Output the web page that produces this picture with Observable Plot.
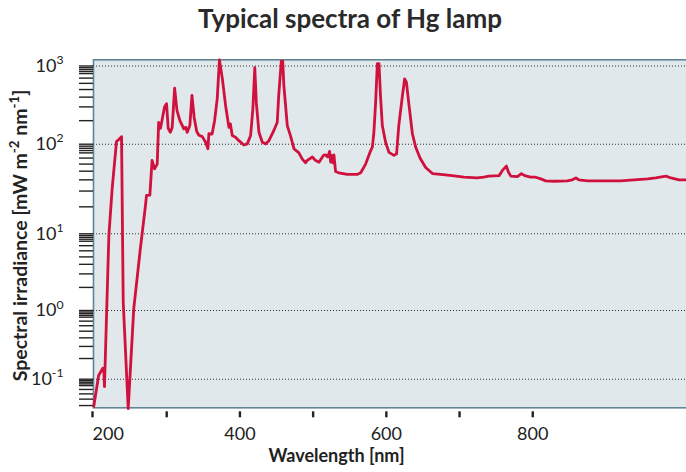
<!DOCTYPE html>
<html>
<head>
<meta charset="utf-8">
<script src="https://cdn.jsdelivr.net/npm/d3@7"></script>
<script src="https://cdn.jsdelivr.net/npm/@observablehq/plot@0.6"></script>
<style>
  body { margin: 0; background: #fff; }
  #wrap { width: 686px; height: 472px; position: relative; overflow: hidden; }
  #title { height: 42px; box-sizing: border-box; padding-left: 14px; padding-top: 4px;
           text-align: center; font: 700 26px Lato, "Open Sans", sans-serif; color: #2a2a2a; line-height: 28px; }
  svg text { font-family: Lato, "Open Sans", sans-serif; }
</style>
</head>
<body>
<div id="wrap">
  <div id="title">Typical spectra of Hg lamp</div>
  <div id="chart"></div>
</div>
<script>
// ---- data (wavelength in nm, irradiance in mW m^-2 nm^-1)
const wavelength = [
  200.4, 207, 212.7, 214, 215, 221, 225.5, 231.4, 234.6, 238.3,
  240.6, 247.4, 255, 264, 271, 272.4, 277, 280, 283.4, 287,
  289, 291.5, 293.5, 297, 299.8, 302, 305, 307.5, 310.8, 314,
  318, 321, 323.4, 326, 328, 331.6, 334.5, 337.5, 341, 344,
  348.6, 353, 356.3, 357.6, 362, 365.4, 369, 372, 376, 380.4,
  385, 387, 389.5, 394, 398.6, 405.4, 410, 414.6, 417.7, 420.3,
  422.5, 426, 430.6, 435, 439.6, 446.4, 451, 453, 456.5, 458.5,
  460, 464.7, 469, 473.8, 480.6, 485, 489.7, 492, 499, 503,
  508, 514, 517, 520, 522.5, 524, 525, 527, 528.4, 530.7,
  535, 546.7, 560, 565, 571.7, 577.6, 580.9, 583, 585.4, 587.7,
  590, 592, 594.5, 599, 603.6, 610.4, 614, 617, 622, 625,
  627.4, 631, 635.6, 640, 646, 653.7, 663, 674, 690, 706,
  724, 733, 740, 754, 758.6, 764, 766.7, 770, 779, 784.5,
  789, 797, 804, 811, 817.7, 829, 847, 854, 859, 863,
  875, 920, 957, 968, 982, 988.6, 1000, 1010
];
const irradiance = [
  0.039, 0.113, 0.145, 0.14, 0.077, 9.5, 32, 108, 115, 125,
  1.28, 0.036, 1.06, 6.4, 20.7, 26.8, 27, 66, 53, 60,
  190, 160, 200, 300, 330, 160, 142, 164, 520, 270,
  200, 175, 157, 165, 142, 173, 420, 220, 145, 130,
  125, 107, 89, 136, 135, 200, 380, 1200, 690, 313,
  164, 182, 129, 123, 111, 98, 101, 129, 283, 950,
  330, 142, 106, 101, 111, 150, 191, 420, 1150, 1150,
  564, 173, 129, 89, 80, 68.7, 62, 66, 72, 66,
  63, 75, 76, 72, 83, 63, 75, 62, 76, 49.5,
  48, 46, 46, 48, 60, 81, 93, 142, 345, 1070,
  1070, 420, 173, 106, 81, 75, 78, 173, 420, 686,
  620, 313, 136, 93, 70, 55, 47, 46, 44.6, 42.8,
  42, 43, 44, 44.6, 51, 57, 49, 44, 43.5, 47,
  44.6, 42.8, 42.8, 41, 39, 38.6, 39, 40, 42, 40,
  39, 39, 41, 42, 44, 42, 40, 40
];
const xTicksMajor = [400, 600, 800];
const xTicksMinor = [300, 500, 700];
const xTickFirst = [200];
const yDecades = [0.1, 1, 10, 100, 1000];
const yExponents = ["-1", "0", "1", "2", "3"];
const yMinorMantissa = [2, 3, 4, 5, 6, 7, 8, 8.5, 9, 9.5];
const xLabel = "Wavelength [nm]";
const yLabelParts = [["Spectral irradiance [mW m", false], ["-2", true], [" nm", false], ["-1", true], ["]", false]];

const data = wavelength.map((w, i) => ({w, v: irradiance[i]}));

const yMin = 0.037, yMax = 1200;
const yMinor = [];
for (const d of [0.01, 0.1, 1, 10, 100, 1000]) {
  for (const m of yMinorMantissa) { const t = m * d; if (t >= yMin && t <= yMax) yMinor.push(t); }
}

const TOP = 42; // height of the HTML title block
const ink = "#222";
const red = "#d0103d";

const chart = Plot.plot({
  width: 686,
  height: 430,
  marginLeft: 93,
  marginRight: 0,
  marginTop: 59.3 - TOP,
  marginBottom: 430 - (407.3 - TOP),
  x: {domain: [200, 1010]},
  y: {
    type: "log",
    // the reference's decades are not evenly spaced: calibrate piecewise
    domain: [yMin, 0.1, 1, 10, 100, 1000, yMax],
    range: [407.3, 378.7, 310, 233.3, 143.7, 65.5, 59.3].map(p => p - TOP)
  },
  style: {fontSize: "18px", color: ink, background: "transparent"},
  marks: [
    Plot.frame({fill: "#e1e8eb", stroke: "#5f8597", strokeWidth: 1.6, insetRight: -3}),
    Plot.ruleY(yDecades, {stroke: "#333", strokeWidth: 1.1, strokeDasharray: "1,2"}),
    Plot.axisY({ticks: yMinor, tickSize: 14, tickFormat: () => "", stroke: ink, strokeWidth: 1.4, label: null}),
    Plot.axisY({ticks: yDecades, tickSize: 14, tickPadding: 16, stroke: ink, strokeWidth: 1.4,
                tickFormat: (d, i) => "10^" + yExponents[yDecades.indexOf(d)], label: null, fontSize: 18}),
    Plot.axisX({ticks: xTicksMinor.concat(xTicksMajor), tickSize: 6, dy: 4, tickPadding: 9, stroke: ink, strokeWidth: 2.4,
                tickFormat: d => xTicksMajor.includes(d) ? String(d) : "", label: null, fontSize: 18}),
    Plot.axisX({ticks: xTickFirst, tickSize: 6, dy: 4, tickPadding: 9, stroke: ink, strokeWidth: 2.4,
                textAnchor: "start", dx: -1, label: null, fontSize: 18}),
    Plot.line(data, {x: "w", y: "v", stroke: red, strokeWidth: 2.8, strokeLinejoin: "round"}),
    Plot.text([xLabel], {frameAnchor: "bottom", lineAnchor: "bottom", textAnchor: "middle",
                dx: 336 - (93 + 686) / 2, dy: 419 - (407.3 - TOP),
                fontSize: 18, fontWeight: "bold", fill: ink}),
    Plot.text(["Y"], {frameAnchor: "left", textAnchor: "middle", lineAnchor: "middle", rotate: -90, dx: 20 - 93, dy: 1.7,
                fontSize: 19.5, fontWeight: "bold", fill: ink})
  ]
});
document.getElementById("chart").appendChild(chart);

const svg = d3.select(chart);
// superscript helper
function setParts(textEl, parts, F) {
  const t = d3.select(textEl);
  t.text(null);
  const shift = 0.42 * F;
  let n = 0;
  for (const [s, sup] of parts) {
    const ts = t.append("tspan").text(s);
    if (sup) ts.attr("dy", -shift).attr("font-size", (0.68 * F) + "px");
    else if (n > 0) ts.attr("dy", shift);
    n++;
  }
}
svg.selectAll("text").each(function () {
  const s = this.textContent;
  if (s.startsWith("10^")) setParts(this, [["10", false], [s.slice(3), true]], 18);
  else if (s === "Y") setParts(this, yLabelParts, 19.5);
});
</script>
</body>
</html>
